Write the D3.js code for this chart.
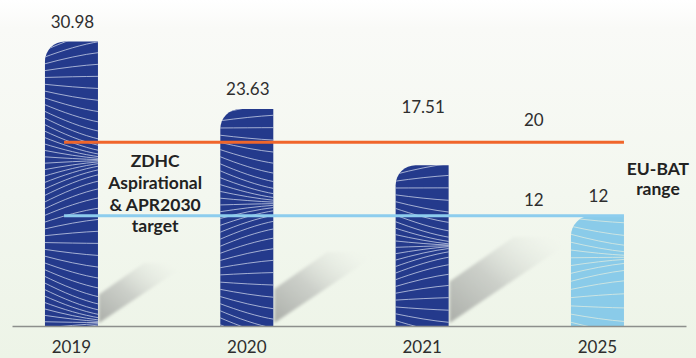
<!DOCTYPE html>
<html>
<head>
<meta charset="utf-8">
<script src="https://cdn.jsdelivr.net/npm/d3@7/dist/d3.min.js"></script>
<style>
  html, body { margin: 0; padding: 0; background: #fff; }
  svg { display: block; }
  text { font-family: Lato, "Open Sans", sans-serif; }
</style>
</head>
<body>
<div id="chart"></div>
<script>
// ---------------- data ----------------
const categories = ["2019", "2020", "2021", "2025"];
const values = [30.98, 23.63, 17.51, 12];
const valueLabels = ["30.98", "23.63", "17.51", "12"];
const projected = [false, false, false, true];
const targetValues = [20, 12];
const targetLabels = ["20", "12"];
const zdhcLabel = ["ZDHC", "Aspirational", "& APR2030", "target"];
const eubatLabel = ["EU-BAT", "range"];

// ---------------- layout ----------------
const W = 696, H = 358;
const baseY = 326;
const colors = { navy: "#243a8c", light: "#8acbe9", orange: "#f0662b", blueLine: "#8dcdee", text: "#2e2e2e", axis: "#8d8f8c" };
const shadowRise = { "2019": 63, "2020": 74, "2021": 89 };

const svg = d3.select("#chart").append("svg").attr("width", W).attr("height", H);
const defs = svg.append("defs");

// background gradient
const bg = defs.append("linearGradient").attr("id", "bg").attr("x1", 0).attr("y1", 0).attr("x2", 0).attr("y2", 1);
bg.append("stop").attr("offset", 0).attr("stop-color", "#ffffff");
bg.append("stop").attr("offset", 0.08).attr("stop-color", "#f9faf7");
bg.append("stop").attr("offset", 1).attr("stop-color", "#edf4e7");
svg.append("rect").attr("width", W).attr("height", H).attr("fill", "url(#bg)");

// shadow gradient + blur
const sg = defs.append("linearGradient").attr("id", "shadowGrad").attr("x1", 0).attr("y1", 1).attr("x2", 1).attr("y2", 0.2);
sg.append("stop").attr("offset", 0).attr("stop-color", "#a7aaa5").attr("stop-opacity", 0.95);
sg.append("stop").attr("offset", 0.45).attr("stop-color", "#c3c6c1").attr("stop-opacity", 0.8);
sg.append("stop").attr("offset", 1).attr("stop-color", "#e9eee5").attr("stop-opacity", 0);
defs.append("filter").attr("id", "blur").attr("x", "-20%").attr("y", "-20%").attr("width", "140%").attr("height", "140%")
  .append("feGaussianBlur").attr("stdDeviation", 1.6);

// scales
const x = d3.scaleBand().domain(categories).range([12, 686])
  .paddingInner(0.6977).paddingOuter(0.2709).align(0.347);
const bw = x.bandwidth();
const y = d3.scaleLinear().domain([0, 35.5]).range([baseY, 0]);

const data = categories.map((c, i) => ({ cat: c, value: values[i], label: valueLabels[i], projected: projected[i] }));

// shadows
const shadows = svg.append("g");
data.filter(d => shadowRise[d.cat]).forEach(d => {
  const xr = x(d.cat) + bw;
  const r = shadowRise[d.cat];
  const pts = [
    [xr + 1, baseY - r * 0.5],
    [xr + r * 0.73, baseY - r],
    [xr + r * 1.45, baseY - r],
    [xr + 1, baseY - 3]
  ];
  shadows.append("path")
    .attr("d", d3.line()(pts) + "Z")
    .attr("fill", "url(#shadowGrad)")
    .attr("filter", "url(#blur)");
});

// bars
const R = 20;
function barPath(d) {
  const x0 = x(d.cat), x1 = x0 + bw, yt = y(d.value), yb = y(0);
  return `M${x0},${yb}L${x0},${yt + R}A${R},${R} 0 0 1 ${x0 + R},${yt}L${x1},${yt}L${x1},${yb}Z`;
}
// decorative wave texture parameters per bar (amp*freq kept below the crossing limit)
const texture = {
  "2019": { step: 6.6, amp: 0.42, freq: 1.75, phase: 0.02 },
  "2020": { step: 7.0, amp: 0.36, freq: 1.45, phase: 0.12 },
  "2021": { step: 6.6, amp: 0.32, freq: 1.4, phase: 0.05 },
  "2025": { step: 8.0, amp: 0.22, freq: 1.2, phase: 0.3 }
};
function texturePaths(d) {
  const p = texture[d.cat];
  const x0 = x(d.cat), x1 = x0 + bw, yt = y(d.value), yb = y(0), h = yb - yt;
  const out = [];
  for (let yl = yt - 30; yl < yb + 30; yl += p.step) {
    const t = (yl - yt) / h;
    const slope = -p.amp * Math.cos(2 * Math.PI * (t * p.freq + p.phase));
    const yr = yl + slope * bw;
    const bow = 0.12 * slope * bw;
    const c1 = [x0 + bw * 0.35, yl + (yr - yl) * 0.35 + bow];
    const c2 = [x0 + bw * 0.7, yl + (yr - yl) * 0.7 + bow];
    out.push(`M${x0 - 2},${yl}C${c1[0]},${c1[1]} ${c2[0]},${c2[1]} ${x1 + 2},${yr}`);
  }
  return out;
}

const bars = svg.append("g");
data.forEach((d, i) => {
  const id = "clip" + i;
  defs.append("clipPath").attr("id", id).append("path").attr("d", barPath(d));
  const g = bars.append("g");
  g.append("path").attr("d", barPath(d)).attr("fill", d.projected ? colors.light : colors.navy);
  g.append("g").attr("clip-path", `url(#${id})`)
    .selectAll("path").data(texturePaths(d)).join("path")
    .attr("d", p => p)
    .attr("fill", "none")
    .attr("stroke", d.projected ? "rgba(236,240,222,0.75)" : "rgba(214,222,238,0.8)")
    .attr("stroke-width", 0.9);
});

// axis
const axis = svg.append("g").attr("transform", `translate(0,${baseY})`)
  .call(d3.axisBottom(x).tickSize(0).tickSizeOuter(0).tickPadding(15));
axis.select(".domain").attr("stroke", colors.axis).attr("stroke-width", 1.6);
axis.selectAll("text").attr("font-size", 17).attr("fill", colors.text)
  .style("font-family", "Lato, 'Open Sans', sans-serif");

// target lines
const lineX0 = x("2019") + bw * 0.36;
const lineX1 = x("2025") + bw;
const lineColors = [colors.orange, colors.blueLine];
svg.append("g").selectAll("line").data(targetValues).join("line")
  .attr("x1", lineX0).attr("x2", lineX1)
  .attr("y1", v => y(v)).attr("y2", v => y(v))
  .attr("stroke", (v, i) => lineColors[i]).attr("stroke-width", 3);

// target value labels
const lblX = (x("2021") + bw + x("2025")) / 2 + 24;
const lblOffsets = [16, 10];
svg.append("g").selectAll("text").data(targetValues).join("text")
  .attr("x", lblX).attr("y", (v, i) => y(v) - lblOffsets[i])
  .attr("text-anchor", "middle").attr("font-size", 17).attr("fill", colors.text)
  .text((v, i) => targetLabels[i]);

// bar value labels (pushed above the upper target line if they would sit on it)
const upperY = y(d3.max(targetValues));
svg.append("g").selectAll("text").data(data).join("text")
  .attr("x", d => x(d.cat) + bw / 2 + 1)
  .attr("y", d => {
    let ly = y(d.value) - 14;
    if (ly > upperY - 8 && ly < upperY + 30) ly = upperY - 29;
    return ly;
  })
  .attr("text-anchor", "middle").attr("font-size", 17).attr("fill", colors.text)
  .text(d => d.label);

// annotation: ZDHC
const zx = (x("2019") + bw + x("2020")) / 2 - 4;
svg.append("g").selectAll("text").data(zdhcLabel).join("text")
  .attr("x", zx).attr("y", (t, i) => y(targetValues[0]) + 25 + i * 21.7)
  .attr("text-anchor", "middle").attr("font-size", 17.5).attr("font-weight", 700).attr("fill", "#222")
  .text(t => t);

// annotation: EU-BAT
const ex = x("2025") + bw + 34;
svg.append("g").selectAll("text").data(eubatLabel).join("text")
  .attr("x", ex).attr("y", (t, i) => y(targetValues[1]) - 41 + i * 20)
  .attr("text-anchor", "middle").attr("font-size", 17.5).attr("font-weight", 700).attr("fill", "#222")
  .text(t => t);
</script>
</body>
</html>
